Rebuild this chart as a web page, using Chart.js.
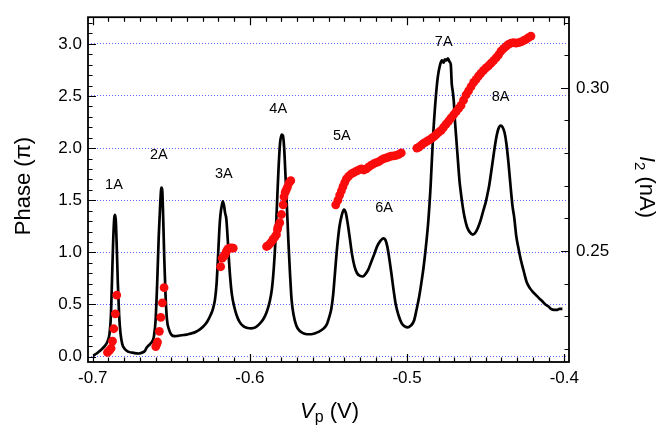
<!DOCTYPE html>
<html><head><meta charset="utf-8">
<script src="https://cdn.jsdelivr.net/npm/chart.js@4/dist/chart.umd.min.js"></script>
<style>html,body{margin:0;padding:0;background:#fff}#wrap{width:660px;height:428px}</style>
</head><body><div id="wrap"><canvas id="c" width="660" height="428"></canvas></div>
<script>
// ---------- data ----------
const vTickValues = [-0.7, -0.6, -0.5, -0.4];
const vTickLabels = ["-0.7", "-0.6", "-0.5", "-0.4"];
const phaseTickValues = [0, 0.5, 1.0, 1.5, 2.0, 2.5, 3.0];
const phaseTickLabels = ["0.0", "0.5", "1.0", "1.5", "2.0", "2.5", "3.0"];
const currentTickValues = [0.25, 0.30];
const currentTickLabels = ["0.25", "0.30"];

const peakNames = ["1A", "2A", "3A", "4A", "5A", "6A", "7A", "8A"];
const peakV = [-0.6865, -0.6579, -0.6166, -0.5820, -0.5415, -0.5146, -0.4767, -0.4405];
const peakPhase = [1.647, 1.931, 1.756, 2.376, 2.113, 1.43, 3.014, 2.486];

// current I2 (nA) versus Vp (V)
const curveV = [
-0.6995,-0.6975,-0.6950,-0.6925,-0.6905,-0.6893,-0.6884,-0.6877,-0.6870,-0.6863,-0.6858,-0.6853,-0.6847,-0.6840,-0.6832,-0.6823,-0.6812,-0.6795,-0.6770,-0.6740,
-0.6710,-0.6690,-0.6670,-0.6655,-0.6635,-0.6620,-0.6610,-0.6600,-0.6590,-0.6580,-0.6570,-0.6563,-0.6558,-0.6552,-0.6545,-0.6537,-0.6528,-0.6515,-0.6500,-0.6480,
-0.6460,-0.6435,-0.6405,-0.6380,-0.6355,-0.6330,-0.6310,-0.6290,-0.6270,-0.6250,-0.6235,-0.6222,-0.6212,-0.6203,-0.6195,-0.6188,-0.6180,-0.6172,-0.6165,-0.6158,
-0.6150,-0.6145,-0.6140,-0.6133,-0.6125,-0.6115,-0.6100,-0.6085,-0.6065,-0.6040,-0.6015,-0.5990,-0.5965,-0.5940,-0.5915,-0.5895,-0.5875,-0.5860,-0.5848,-0.5838,
-0.5828,-0.5818,-0.5808,-0.5798,-0.5790,-0.5782,-0.5774,-0.5765,-0.5755,-0.5745,-0.5735,-0.5722,-0.5705,-0.5685,-0.5660,-0.5635,-0.5610,-0.5585,-0.5560,-0.5530,
-0.5510,-0.5495,-0.5482,-0.5470,-0.5458,-0.5445,-0.5430,-0.5415,-0.5402,-0.5390,-0.5378,-0.5365,-0.5350,-0.5335,-0.5318,-0.5300,-0.5282,-0.5265,-0.5248,-0.5230,
-0.5210,-0.5190,-0.5170,-0.5152,-0.5138,-0.5125,-0.5112,-0.5100,-0.5087,-0.5072,-0.5055,-0.5035,-0.5015,-0.4995,-0.4975,-0.4955,-0.4940,-0.4925,-0.4910,-0.4895,
-0.4880,-0.4865,-0.4850,-0.4837,-0.4822,-0.4805,-0.4790,-0.4778,-0.4768,-0.4760,-0.4750,-0.4740,-0.4730,-0.4722,-0.4716,-0.4710,-0.4703,-0.4695,-0.4685,-0.4675,
-0.4665,-0.4660,-0.4650,-0.4635,-0.4618,-0.4600,-0.4582,-0.4565,-0.4548,-0.4530,-0.4515,-0.4500,-0.4490,-0.4478,-0.4465,-0.4450,-0.4435,-0.4420,-0.4405,-0.4392,
-0.4380,-0.4368,-0.4355,-0.4342,-0.4330,-0.4318,-0.4305,-0.4290,-0.4275,-0.4258,-0.4240,-0.4220,-0.4200,-0.4180,-0.4160,-0.4140,-0.4120,-0.4100,-0.4085,-0.4065,
-0.4045,-0.4030,-0.4012];
const curveI = [
0.2180,0.2186,0.2196,0.2208,0.2224,0.2247,0.2304,0.2416,0.2528,0.2601,0.2611,0.2592,0.2512,0.2400,0.2304,0.2247,0.2215,0.2199,0.2191,0.2188,
0.2186,0.2188,0.2193,0.2205,0.2215,0.2224,0.2240,0.2288,0.2400,0.2544,0.2649,0.2694,0.2687,0.2608,0.2480,0.2368,0.2291,0.2260,0.2244,0.2239,
0.2240,0.2242,0.2244,0.2247,0.2250,0.2256,0.2263,0.2272,0.2285,0.2304,0.2323,0.2352,0.2400,0.2480,0.2560,0.2608,0.2636,0.2652,0.2640,0.2617,
0.2598,0.2566,0.2528,0.2470,0.2416,0.2368,0.2330,0.2304,0.2282,0.2269,0.2264,0.2263,0.2266,0.2276,0.2291,0.2311,0.2343,0.2384,0.2448,0.2528,
0.2640,0.2751,0.2831,0.2857,0.2854,0.2815,0.2735,0.2640,0.2528,0.2432,0.2352,0.2304,0.2272,0.2256,0.2248,0.2245,0.2245,0.2248,0.2253,0.2263,
0.2276,0.2298,0.2323,0.2368,0.2438,0.2512,0.2576,0.2611,0.2627,0.2617,0.2585,0.2541,0.2489,0.2454,0.2432,0.2424,0.2422,0.2429,0.2442,0.2464,
0.2489,0.2515,0.2531,0.2539,0.2534,0.2512,0.2473,0.2432,0.2384,0.2336,0.2304,0.2279,0.2269,0.2266,0.2272,0.2288,0.2320,0.2355,0.2400,0.2451,
0.2515,0.2592,0.2703,0.2831,0.2943,0.3032,0.3071,0.3084,0.3077,0.3087,0.3084,0.3090,0.3080,0.3071,0.3013,0.2991,0.2959,0.2895,0.2831,0.2767,
0.2707,0.2687,0.2649,0.2605,0.2573,0.2557,0.2550,0.2557,0.2573,0.2598,0.2624,0.2649,0.2671,0.2700,0.2742,0.2793,0.2841,0.2873,0.2884,0.2879,
0.2863,0.2828,0.2770,0.2700,0.2640,0.2601,0.2544,0.2505,0.2470,0.2438,0.2406,0.2387,0.2375,0.2365,0.2355,0.2346,0.2336,0.2330,0.2323,0.2320,
0.2320,0.2323,0.2323];

// phase (units of pi) versus Vp (V)
const dotV = [
-0.6906,-0.6893,-0.6883,-0.6874,-0.6866,-0.6856,-0.6847,
-0.6599,-0.6592,-0.6588,-0.6576,-0.6567,-0.6557,-0.6546,
-0.6186,-0.6176,-0.6168,-0.6159,-0.6152,-0.6146,-0.6138,-0.6128,-0.6117,-0.6106,
-0.5894,-0.5884,-0.5874,-0.5863,-0.5853,-0.5842,-0.5831,-0.5825,-0.5821,-0.5810,-0.5799,-0.5789,-0.5783,-0.5776,-0.5769,-0.5761,-0.5751,-0.5740,
-0.5454,-0.5440,-0.5429,-0.5418,-0.5408,-0.5397,-0.5386,-0.5372,-0.5355,-0.5340,-0.5323,-0.5307,-0.5291,-0.5275,-0.5259,-0.5244,-0.5228,-0.5212,-0.5196,-0.5180,-0.5164,-0.5148,-0.5132,-0.5116,-0.5101,-0.5085,-0.5069,-0.5053,-0.5037,
-0.4938,-0.4925,-0.4912,-0.4900,-0.4885,-0.4870,-0.4857,-0.4843,-0.4829,-0.4815,-0.4800,-0.4783,-0.4768,-0.4752,-0.4736,-0.4720,-0.4704,-0.4688,-0.4672,-0.4657,
-0.4641,-0.4625,-0.4609,-0.4593,-0.4577,-0.4561,-0.4546,-0.4530,-0.4514,-0.4498,-0.4482,-0.4466,-0.4450,-0.4434,-0.4418,-0.4403,-0.4387,-0.4371,-0.4355,-0.4339,
-0.4323,-0.4307,-0.4291,-0.4276,-0.4260,-0.4244,-0.4228,-0.4212];
const dotPhase = [
0.04,0.06,0.08,0.149,0.267,0.41,0.59,
0.096,0.12,0.14,0.242,0.376,0.516,0.661,
0.862,0.944,0.96,0.975,1.00,1.02,1.035,1.04,1.042,1.04,
1.056,1.065,1.08,1.10,1.124,1.146,1.17,1.22,1.245,1.285,1.363,1.456,1.533,1.575,1.60,1.626,1.666,1.688,
1.456,1.50,1.55,1.59,1.63,1.67,1.705,1.73,1.752,1.765,1.78,1.79,1.80,1.79,1.80,1.82,1.836,1.85,1.86,1.87,1.886,1.90,1.907,1.915,1.923,1.926,1.93,1.94,1.954,
2.00,2.01,2.025,2.04,2.055,2.07,2.08,2.095,2.11,2.13,2.15,2.17,2.20,2.23,2.26,2.29,2.32,2.35,2.38,2.41,
2.46,2.51,2.55,2.59,2.63,2.66,2.69,2.72,2.745,2.77,2.79,2.815,2.84,2.865,2.895,2.93,2.955,2.975,2.995,3.008,
3.012,3.008,3.012,3.02,3.03,3.044,3.06,3.075];

// ---------- chart ----------
const FONT = '"Liberation Sans", Arial, Helvetica, sans-serif';
Chart.defaults.font.family = FONT;
Chart.defaults.color = '#000';

function drawParts(ctx, parts, cx, baseY) {
  let total = 0;
  parts.forEach(p => { ctx.font = p.f; p.w = ctx.measureText(p.t).width; total += p.w; });
  let xx = cx - total / 2;
  ctx.textAlign = 'left'; ctx.textBaseline = 'alphabetic';
  parts.forEach(p => { ctx.font = p.f; ctx.fillText(p.t, xx, baseY + (p.dy || 0)); xx += p.w; });
}

const deco = {
  id: 'deco',
  afterDatasetsDraw(chart) {
    const { ctx, chartArea: a, scales } = chart;
    const x = scales.x, y = scales.y, y2 = scales.y2;
    ctx.save();
    ctx.strokeStyle = '#000';
    ctx.lineWidth = 1.2;
    ctx.beginPath();
    for (let i = 0; i <= 30; i++) {
      const v = -0.70 + i * 0.01;
      const px = Math.round(x.getPixelForValue(v)) + 0.5;
      const L = (i % 10 === 0) ? 8 : 4.5;
      ctx.moveTo(px, a.bottom); ctx.lineTo(px, a.bottom - L);
      ctx.moveTo(px, a.top); ctx.lineTo(px, a.top + L);
    }
    for (let i = 0; i <= 32; i++) {
      const v = i * 0.1;
      const py = Math.round(y.getPixelForValue(v)) + 0.5;
      const L = (i % 5 === 0) ? 8 : 4.5;
      ctx.moveTo(a.left, py); ctx.lineTo(a.left + L, py);
    }
    for (let i = 22; i <= 32; i++) {
      const v = i * 0.01;
      const py = Math.round(y2.getPixelForValue(v)) + 0.5;
      const L = (i % 5 === 0) ? 8 : 4.5;
      ctx.moveTo(a.right, py); ctx.lineTo(a.right - L, py);
    }
    ctx.stroke();
    ctx.lineWidth = 1.8;
    ctx.strokeRect(a.left, a.top, a.right - a.left, a.bottom - a.top);

    // peak labels
    ctx.fillStyle = '#000';
    ctx.font = '14.5px ' + FONT;
    ctx.textAlign = 'center'; ctx.textBaseline = 'middle';
    peakNames.forEach((n, i) => {
      ctx.fillText(n, x.getPixelForValue(peakV[i]), y.getPixelForValue(peakPhase[i]));
    });

    // axis titles
    const cx = (a.left + a.right) / 2;
    drawParts(ctx, [
      { t: 'V', f: 'italic 22px ' + FONT },
      { t: 'p', f: '16px ' + FONT, dy: 4 },
      { t: ' (V)', f: '22px ' + FONT }
    ], cx + 1, 418);

    ctx.save();
    ctx.translate(29.5, 186);
    ctx.rotate(-Math.PI / 2);
    drawParts(ctx, [{ t: 'Phase (\u03c0)', f: '22px ' + FONT }], 0, 0);
    ctx.restore();

    ctx.save();
    ctx.translate(640, 187);
    ctx.rotate(Math.PI / 2);
    drawParts(ctx, [
      { t: 'I', f: 'italic 22px ' + FONT },
      { t: '2', f: '15px ' + FONT, dy: 5 },
      { t: ' (nA)', f: '22px ' + FONT }
    ], 0, 0);
    ctx.restore();
    ctx.restore();
  }
};

const phasePoints = dotV.map((v, i) => ({ x: v, y: dotPhase[i] }));
const curvePoints = curveV.map((v, i) => ({ x: v, y: curveI[i] }));

new Chart(document.getElementById('c'), {
  type: 'scatter',
  data: {
    datasets: [
      {
        label: 'Phase',
        data: phasePoints,
        yAxisID: 'y',
        showLine: false,
        pointRadius: 4.4,
        pointBorderWidth: 0,
        pointBackgroundColor: 'rgb(250,12,12)',
        pointBorderColor: 'rgb(250,12,12)'
      },
      {
        label: 'I2',
        data: curvePoints,
        yAxisID: 'y2',
        showLine: true,
        borderColor: '#000',
        borderWidth: 2.7,
        pointRadius: 0,
        tension: 0.3,
        cubicInterpolationMode: 'monotone',
        borderJoinStyle: 'round'
      }
    ]
  },
  options: {
    responsive: false,
    animation: false,
    events: [],
    layout: { padding: { top: 7, left: 0, right: 0, bottom: 0 }, autoPadding: false },
    plugins: { legend: { display: false }, tooltip: { enabled: false } },
    scales: {
      x: {
        type: 'linear', position: 'bottom', bounds: 'data',
        min: -0.703, max: -0.397,
        afterBuildTicks: s => { s.ticks = vTickValues.map(v => ({ value: v })); },
        afterFit: s => { s.height = 66; },
        grid: { display: false, drawTicks: false },
        border: { display: false },
        ticks: { autoSkip: false, maxRotation: 0, padding: 6, font: { size: 17 }, color: '#000',
          callback: (v, i) => vTickLabels[i] }
      },
      y: {
        type: 'linear', position: 'left', bounds: 'data',
        min: -0.052, max: 3.256,
        afterBuildTicks: s => { s.ticks = phaseTickValues.map(v => ({ value: v })); },
        afterFit: s => { s.width = 88; },
        grid: { display: true, drawTicks: false, color: 'rgba(80,80,255,0.9)', lineWidth: 1 },
        border: { display: false, dash: [1, 2] },
        ticks: { autoSkip: false, padding: 6, font: { size: 17 }, color: '#000',
          callback: (v, i) => phaseTickLabels[i] }
      },
      y2: {
        type: 'linear', position: 'right', bounds: 'data',
        min: 0.2160, max: 0.32164,
        afterBuildTicks: s => { s.ticks = currentTickValues.map(v => ({ value: v })); },
        afterFit: s => { s.width = 91; },
        grid: { display: false, drawTicks: false },
        border: { display: false },
        ticks: { autoSkip: false, padding: 7, font: { size: 17 }, color: '#000',
          callback: (v, i) => currentTickLabels[i] }
      }
    }
  },
  plugins: [deco]
});
</script>
</body></html>
